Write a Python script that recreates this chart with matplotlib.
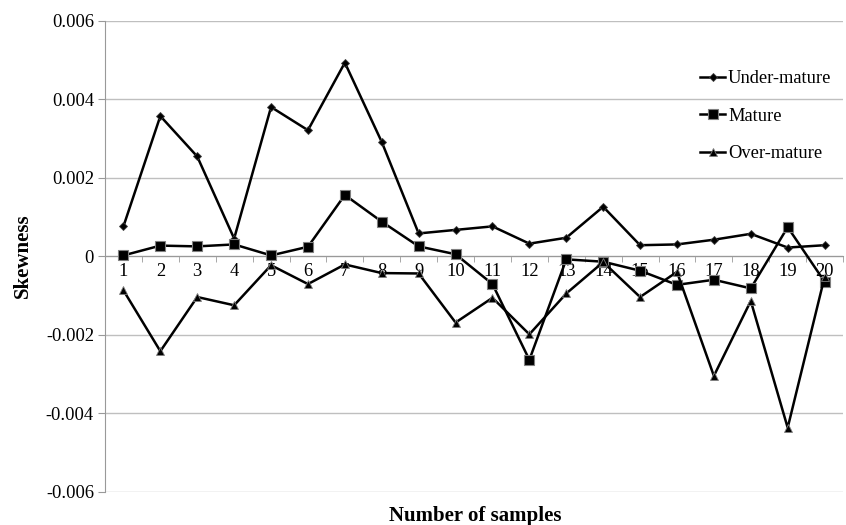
# Skewness of under-mature, mature and over-mature samples
import numpy as np
import matplotlib.pyplot as plt
from matplotlib.ticker import FixedLocator

samples = list(range(1, 21))
under_mature = [0.00076, 0.00357, 0.00254, 0.00045, 0.00380, 0.00321, 0.00493,
                0.00291, 0.00058, 0.00067, 0.00076, 0.00032, 0.00047, 0.00126,
                0.00028, 0.00030, 0.00042, 0.00057, 0.00022, 0.00028]
mature = [0.00002, 0.00027, 0.00025, 0.00030, 0.00002, 0.00024, 0.00156,
          0.00088, 0.00025, 0.00005, -0.00071, -0.00264, -0.00008, -0.00014,
          -0.00037, -0.00073, -0.00060, -0.00082, 0.00074, -0.00065]
over_mature = [-0.00087, -0.00242, -0.00104, -0.00125, -0.00023, -0.00071,
               -0.00021, -0.00043, -0.00044, -0.00169, -0.00106, -0.00199,
               -0.00095, -0.00015, -0.00104, -0.00040, -0.00305, -0.00114,
               -0.00437, -0.00053]
y_ticks = [-0.006, -0.004, -0.002, 0, 0.002, 0.004, 0.006]
y_tick_labels = ["-0.006", "-0.004", "-0.002", "0", "0.002", "0.004", "0.006"]

plt.rcParams["font.family"] = ["Liberation Serif", "DejaVu Serif"]

fig = plt.figure(figsize=(8.46, 5.25), dpi=100)
ax = fig.add_axes([0.1241, 0.0634, 0.8724, 0.8972])

edge = "#7f7f7f"
ax.plot(samples, under_mature, color="black", lw=1.8, marker="D", ms=4.5,
        mfc="black", mec="#404040", mew=0.6, label="Under-mature", zorder=3)
ax.plot(samples, mature, color="black", lw=1.8, marker="s", ms=6.5,
        mfc="black", mec=edge, mew=0.8, label="Mature", zorder=3)
ax.plot(samples, over_mature, color="black", lw=1.8, marker="^", ms=6,
        mfc="black", mec=edge, mew=0.6, label="Over-mature", zorder=3)

ax.set_xlim(0.5, 20.5)
ax.set_ylim(-0.006, 0.006)
ax.set_yticks(y_ticks)
ax.set_yticklabels(y_tick_labels)
ax.yaxis.grid(True, color="#bfbfbf", lw=1.0)
ax.set_axisbelow(True)

ax.set_xticks(samples)
ax.set_xticklabels([str(s) for s in samples])
ax.xaxis.set_minor_locator(FixedLocator(np.arange(0.5, 21, 1)))
ax.tick_params(axis="x", which="major", length=0, pad=5, labelsize=13.3)
ax.tick_params(axis="x", which="minor", length=4, color="#999999", direction="out")
ax.tick_params(axis="y", length=5, color="#999999", labelsize=13.3, pad=3)

for side in ["top", "right"]:
    ax.spines[side].set_visible(False)
ax.spines["bottom"].set_position(("data", 0))
ax.spines["bottom"].set_color("#999999")
ax.spines["left"].set_color("#999999")

fig.text(23 / 846, 1 - 256 / 525, "Skewness", fontsize=15, fontweight="bold",
         rotation=90, ha="center", va="center")
fig.text(475 / 846, 1 - 516 / 525, "Number of samples", fontsize=15,
         fontweight="bold", ha="center", va="center")

ax.legend(loc="upper left", bbox_to_anchor=(0.819, 0.88),
          bbox_transform=fig.transFigure, frameon=False, fontsize=13.3,
          handlelength=1.35, handletextpad=0.15, labelspacing=1.1,
          borderaxespad=0)

fig.savefig("out.png", dpi=100)
